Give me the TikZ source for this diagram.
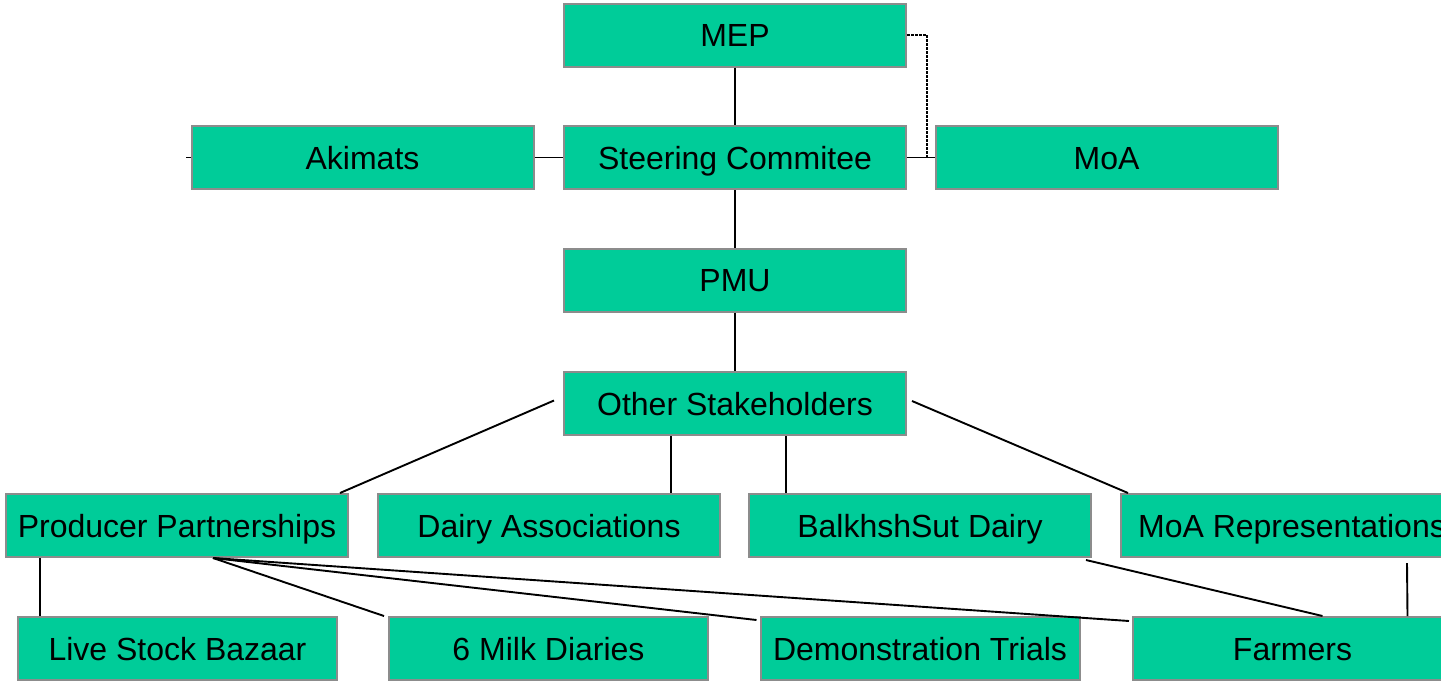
\documentclass[tikz,border=0pt]{standalone}
\usepackage{fontspec}
\setmainfont{Liberation Sans}
\definecolor{boxfill}{HTML}{00CC99}
\definecolor{boxline}{HTML}{8C8C8C}
\tikzset{
  orgbox/.style={draw=boxline, fill=boxfill, line width=2pt, inner sep=0pt,
    minimum height=63pt, text height=23pt, text depth=0pt,
    font=\fontsize{32}{38}\selectfont},
  wide/.style={orgbox, minimum width=342pt},
  narrow/.style={orgbox, minimum width=319pt},
  link/.style={draw=black, line width=1.9pt},
  dotlink/.style={draw=black, line width=1.6pt, dash pattern=on 2.5pt off 1.5pt}
}
\begin{document}
\begin{tikzpicture}[x=1pt,y=1pt]
\useasboundingbox (0,0) rectangle (1441,-681);
\coordinate (stub) at (186,-157.5);
\coordinate (elbow) at (927,-157.5);
\node[wide] (mep) at (735,-35) {MEP};
\node[wide] (akimats) at (362.5,-157.5) {Akimats};
\node[wide] (sc) at (735,-157.5) {Steering Commitee};
\node[wide] (moa) at (1106.5,-157.5) {MoA};
\node[wide] (pmu) at (735,-280) {PMU};
\node[wide] (other) at (735,-403.5) {Other Stakeholders};
\node[wide] (pp) at (177,-525.5) {Producer Partnerships};
\node[wide] (da) at (549,-525.5) {Dairy Associations};
\node[wide] (bs) at (920,-525.5) {BalkhshSut Dairy};
\node[wide] (moar) at (1292,-525.5) {MoA Representations};
\node[narrow] (lsb) at (177.5,-648.5) {Live Stock Bazaar};
\node[narrow] (milk) at (548.5,-648.5) {6 Milk Diaries};
\node[narrow] (demo) at (920,-648.5) {Demonstration Trials};
\node[narrow] (farmers) at (1292.5,-648.5) {Farmers};
\coordinate (ppf) at ([xshift=36pt]pp.south);
% links
\draw[link] (mep) -- (sc);
\draw[link] (sc) -- (pmu);
\draw[link] (pmu) -- (other);
\draw[link] (akimats) -- (sc);
\draw[link] (stub) -- (akimats.west);
\draw[link] (sc) -- (moa);
\draw[dotlink] (mep.east) -| (elbow);
\draw[link] ([shift={(-9pt,3pt)}]other.west) -- ([xshift=-9pt]pp.north east);
\draw[link] ([shift={(5pt,2.5pt)}]other.east) -- ([xshift=8pt]moar.north west);
\draw[link] ([xshift=-64pt]other.south) -- ([xshift=122pt]da.north);
\draw[link] ([xshift=51pt]other.south) -- ([xshift=-134pt]bs.north);
\draw[link] ([xshift=35pt]pp.south west) -- ([xshift=23pt]lsb.north west);
\draw[link] (ppf) -- ([xshift=-4pt]milk.north west);
\draw[link] (ppf) -- ([shift={(-3pt,-4pt)}]demo.north west);
\draw[link] (ppf) -- ([shift={(-3pt,-5pt)}]farmers.north west);
\draw[link] ([shift={(-6pt,-2pt)}]bs.south east) -- ([xshift=30pt]farmers.north);
\draw[link] ([shift={(115pt,-5pt)}]moar.south) -- ([xshift=115pt]farmers.north);
\end{tikzpicture}
\end{document}
